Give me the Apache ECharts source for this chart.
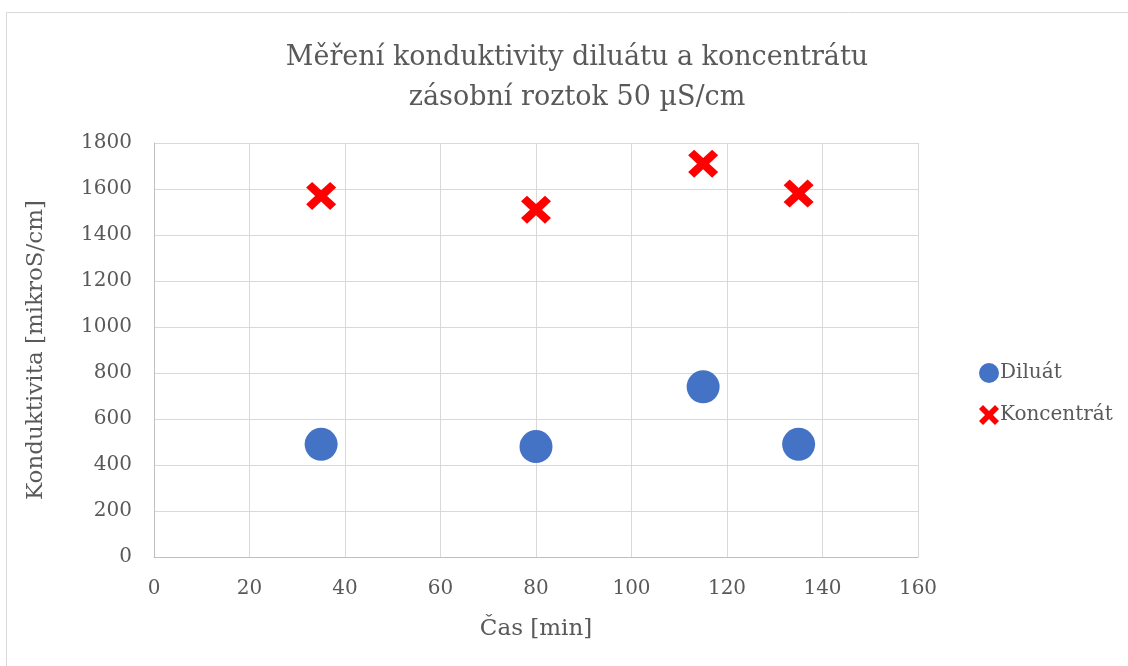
<!DOCTYPE html>
<html><head><meta charset="utf-8">
<script src="https://cdn.jsdelivr.net/npm/echarts@6/dist/echarts.min.js"></script>
<style>html,body{margin:0;padding:0;background:#fff}#c{width:1128px;height:666px}</style>
</head><body><div id="c"></div>
<script>
const titleLines = ['Měření konduktivity diluátu a koncentrátu', 'zásobní roztok 50 µS/cm'];
const xName = 'Čas [min]';
const yName = 'Konduktivita [mikroS/cm]';
const timeMin = [35, 80, 115, 135];
const diluat = [490, 480, 740, 490];
const koncentrat = [1570, 1510, 1710, 1580];
const seriesNames = ['Diluát', 'Koncentrát'];

const FONT = 'DejaVu Serif';
const TXT = '#595959';
const crossPath = 'path://M2,0 L5,3 L8,0 L10,2 L7,5 L10,8 L8,10 L5,7 L2,10 L0,8 L3,5 L0,2 Z';

const chart = echarts.init(document.getElementById('c'));
chart.setOption({
  animation: false,
  backgroundColor: '#fff',
  graphic: [{type: 'rect', shape: {x: 6.5, y: 12.5, width: 1300, height: 800},
    style: {fill: 'none', stroke: '#d9d9d9', lineWidth: 1}, silent: true}],
  title: {
    text: titleLines.join('\n'), left: 572, top: 33, textAlign: 'center',
    textStyle: {fontFamily: FONT, fontSize: 27, fontWeight: 'normal', color: TXT, lineHeight: 40}
  },
  legend: {
    orient: 'vertical', left: 974, top: 358, itemGap: 22, itemWidth: 20, itemHeight: 20,
    textStyle: {fontFamily: FONT, fontSize: 20, color: TXT, padding: [0, 0, 0, -4]},
    data: seriesNames
  },
  grid: {left: 154, right: 210, top: 143, bottom: 109},
  xAxis: {
    type: 'value', min: 0, max: 160, interval: 20,
    name: xName, nameLocation: 'middle', nameGap: 61,
    nameTextStyle: {fontFamily: FONT, fontSize: 23, color: TXT},
    axisLine: {show: true, onZero: false, lineStyle: {color: '#bfbfbf'}},
    axisTick: {show: false},
    axisLabel: {fontFamily: FONT, fontSize: 20, color: TXT, margin: 22},
    splitLine: {show: true, lineStyle: {color: '#d9d9d9'}}
  },
  yAxis: {
    type: 'value', min: 0, max: 1800, interval: 200,
    name: yName, nameLocation: 'middle', nameGap: 106,
    nameTextStyle: {fontFamily: FONT, fontSize: 23, color: TXT},
    axisLine: {show: true, lineStyle: {color: '#bfbfbf'}},
    axisTick: {show: false},
    axisLabel: {fontFamily: FONT, fontSize: 20, color: TXT, margin: 22, formatter: v => String(v)},
    splitLine: {show: true, lineStyle: {color: '#d9d9d9'}}
  },
  series: [
    {name: seriesNames[0], type: 'scatter', symbol: 'circle', symbolSize: 33,
     itemStyle: {color: '#4472c4', opacity: 1},
     data: timeMin.map((t, i) => [t, diluat[i]])},
    {name: seriesNames[1], type: 'scatter', symbol: crossPath, symbolSize: [30, 28],
     itemStyle: {color: '#ff0000', opacity: 1},
     data: timeMin.map((t, i) => [t, koncentrat[i]])}
  ]
});
</script></body></html>
